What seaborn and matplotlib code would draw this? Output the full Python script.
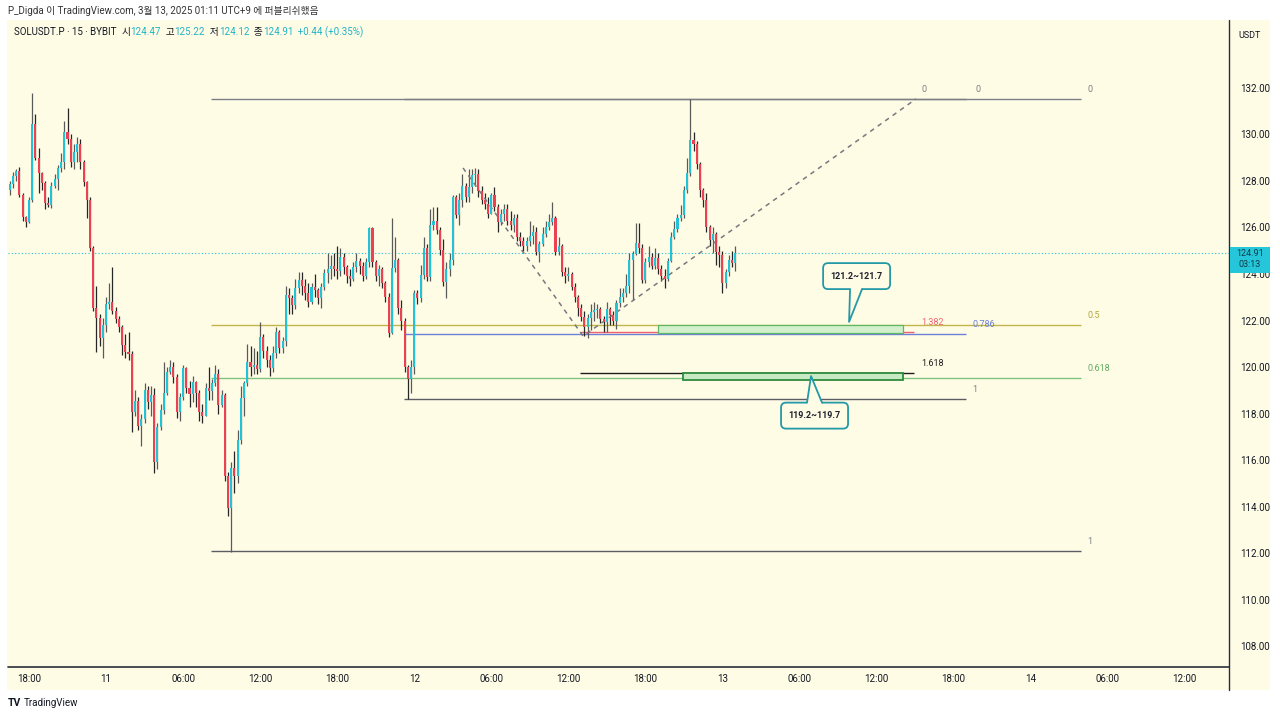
import numpy as np
import pandas as pd
import matplotlib
matplotlib.use('Agg')
import matplotlib.pyplot as plt
import seaborn as sns
from matplotlib.patches import Rectangle, FancyBboxPatch, Polygon

# SOLUSDT.P 15m candles, bar 0 = 10 Mar 16:30, last bar = 13 Mar 01:00
first_open = 127.6
closes = [
    127.85, 128.2, 128.45, 127.4, 126.45, 126.25, 127.2, 130.45, 129.0, 128.35,
    127.9, 127.05, 126.95, 127.8, 128.1, 128.55, 128.8, 130.1, 129.8, 128.8,
    129.25, 129.6, 128.8, 127.95, 127.2, 125.1, 122.55, 122.1, 121.25, 121.8,
    122.7, 122.8, 122.4, 122.05, 121.7, 120.95, 120.65, 120.55, 118.05, 118.55,
    117.45, 117.75, 119.0, 118.5, 118.8, 115.9, 117.4, 118.15, 118.9, 119.8,
    120.0, 119.55, 118.05, 118.7, 119.95, 119.1, 118.85, 119.35, 118.9, 118.05,
    117.9, 119.1, 118.95, 119.3, 119.7, 118.35, 118.8, 115.3, 113.95, 115.65,
    115.3, 116.85, 118.65, 119.3, 120.2, 120.0, 120.1, 119.9, 121.3, 120.7,
    120.3, 119.95, 120.6, 121.5, 120.8, 121.1, 123.1, 122.95, 122.65, 123.4,
    123.75, 123.5, 123.2, 122.8, 123.45, 123.3, 122.95, 123.45, 124.05, 124.2,
    124.35, 124.2, 124.15, 124.75, 124.3, 123.9, 123.8, 124.3, 124.55, 124.35,
    123.9, 124.5, 125.98, 124.5, 123.9, 124.2, 123.6, 123.0, 121.45, 124.25,
    124.6, 122.55, 122.0, 120.0, 119.5, 120.0, 123.2, 122.95, 123.95, 125.1,
    123.85, 126.1, 126.3, 125.9, 125.05, 123.65, 124.2, 124.6, 127.3, 126.55,
    127.2, 127.8, 127.3, 127.75, 128.25, 128.3, 127.55, 127.2, 127.0, 126.6,
    127.4, 126.9, 126.25, 126.6, 126.8, 126.3, 126.1, 126.4, 125.6, 125.4,
    125.2, 125.4, 125.65, 125.8, 124.95, 125.3, 125.7, 126.0, 126.25, 126.4,
    124.95, 125.2, 124.1, 123.9, 124.0, 123.45, 123.0, 122.55, 122.15, 121.7,
    122.1, 122.35, 122.45, 122.5, 122.05, 121.95, 122.5, 122.25, 122.0, 122.75,
    123.0, 123.2, 123.5, 124.6, 124.85, 125.35, 125.1, 123.75, 124.5, 124.75,
    124.35, 124.7, 124.2, 123.9, 123.8, 124.55, 125.6, 125.95, 126.4, 126.55,
    127.6, 128.35, 129.75, 129.6, 128.75, 127.6, 127.2, 126.0, 125.45, 125.7,
    124.95, 124.8, 123.6, 124.1, 124.6, 124.47, 124.91]
highs = [
    128.0, 128.4, 128.5, 128.6, 127.5, 126.5, 127.3, 131.78, 130.9, 129.4,
    128.4, 128.0, 127.3, 127.95, 128.3, 128.7, 129.2, 130.6, 131.15, 130.0,
    129.6, 129.9, 129.8, 128.9, 128.0, 127.3, 125.2, 123.5, 122.3, 122.1,
    123.0, 123.6, 124.3, 122.6, 122.2, 121.8, 121.4, 121.5, 120.7, 119.0,
    118.7, 118.0, 119.3, 119.2, 119.2, 119.1, 117.6, 118.4, 120.2, 120.0,
    120.3, 120.2, 119.7, 118.9, 120.1, 120.0, 119.4, 119.6, 119.4, 119.0,
    118.4, 119.3, 120.0, 119.5, 120.1, 119.9, 119.0, 118.9, 115.5, 115.9,
    116.4, 117.3, 119.2, 119.4, 121.0, 120.9, 120.8, 120.7, 121.95, 121.4,
    120.9, 120.5, 120.9, 121.7, 121.6, 121.3, 123.5, 123.4, 123.1, 123.8,
    124.1, 124.1, 123.8, 123.6, 123.6, 124.0, 123.4, 123.6, 124.2, 124.9,
    124.8, 124.9, 125.2, 125.1, 124.9, 124.4, 124.2, 124.5, 124.9, 124.7,
    124.5, 124.7, 126.0, 126.0, 124.6, 124.4, 124.3, 123.7, 123.2, 126.4,
    125.6, 124.7, 122.9, 122.1, 120.1, 120.3, 123.3, 123.3, 124.4, 125.6,
    125.3, 126.8, 126.9, 126.9, 126.0, 125.5, 124.5, 124.9, 127.4, 127.4,
    127.5, 128.3, 127.9, 128.5, 128.5, 128.55, 128.5, 127.8, 127.5, 127.3,
    127.5, 127.75, 127.0, 126.8, 127.0, 127.0, 126.7, 126.6, 126.6, 125.8,
    125.6, 125.6, 126.3, 126.1, 126.0, 125.4, 126.0, 126.3, 126.6, 127.1,
    126.5, 125.6, 125.3, 124.3, 124.3, 124.1, 123.6, 123.1, 122.7, 122.4,
    122.3, 122.7, 122.8, 122.7, 122.6, 122.2, 122.8, 122.6, 122.4, 122.9,
    123.4, 123.4, 124.0, 124.9, 125.0, 126.2, 126.2, 125.3, 124.7, 125.2,
    124.9, 125.1, 124.9, 124.4, 124.2, 124.7, 125.8, 126.3, 126.6, 126.95,
    127.8, 129.0, 131.53, 130.1, 129.7, 128.8, 127.7, 127.5, 126.1, 126.0,
    125.8, 125.2, 125.0, 124.2, 124.8, 125.0, 125.22]
lows = [
    127.4, 127.7, 128.0, 127.3, 126.3, 126.0, 126.2, 127.1, 128.9, 127.5,
    127.6, 126.8, 126.9, 126.85, 127.7, 127.6, 128.4, 128.5, 129.6, 128.6,
    128.5, 128.8, 128.5, 127.8, 126.4, 125.0, 122.4, 120.65, 120.9, 120.4,
    121.5, 122.5, 122.3, 121.9, 121.5, 120.5, 120.4, 120.3, 117.2, 117.9,
    117.3, 116.6, 117.6, 118.2, 117.9, 115.45, 115.6, 117.3, 118.0, 118.8,
    119.7, 119.3, 117.8, 117.7, 118.6, 118.9, 118.3, 118.5, 118.3, 117.7,
    117.6, 117.9, 118.6, 118.6, 119.2, 118.0, 118.3, 115.1, 113.6, 112.05,
    114.6, 115.0, 116.7, 117.9, 119.2, 119.6, 119.7, 119.7, 119.8, 120.4,
    120.0, 119.6, 119.8, 120.4, 120.6, 120.6, 120.9, 122.3, 122.3, 122.5,
    123.2, 123.1, 122.9, 122.6, 122.7, 123.0, 122.7, 122.55, 123.3, 123.6,
    123.8, 123.9, 123.8, 123.9, 124.0, 123.6, 123.5, 123.7, 124.1, 124.0,
    123.7, 123.8, 124.3, 124.3, 123.7, 123.5, 123.4, 122.8, 121.3, 121.4,
    124.1, 122.3, 121.6, 119.8, 118.62, 118.9, 119.7, 122.7, 122.8, 123.8,
    123.7, 123.7, 125.9, 125.7, 124.8, 123.5, 122.95, 123.9, 124.4, 126.4,
    126.1, 126.9, 127.1, 127.1, 127.5, 127.8, 127.3, 127.0, 126.8, 126.4,
    126.6, 126.7, 125.8, 126.1, 126.3, 126.1, 125.9, 125.8, 125.4, 125.2,
    125.0, 125.0, 125.2, 125.3, 124.8, 124.5, 125.2, 125.6, 125.9, 126.1,
    124.8, 124.8, 123.9, 123.6, 123.7, 123.3, 122.8, 122.2, 122.0, 121.35,
    121.25, 121.6, 122.0, 122.1, 121.9, 121.5, 121.5, 121.8, 121.8, 121.65,
    122.6, 122.8, 123.0, 123.2, 122.9, 124.8, 124.9, 123.6, 123.6, 124.3,
    124.2, 124.2, 124.0, 123.7, 123.4, 123.7, 124.5, 125.5, 125.8, 126.3,
    126.4, 127.5, 128.2, 129.3, 128.5, 127.3, 126.9, 125.8, 125.2, 124.9,
    124.4, 124.3, 123.2, 123.4, 123.9, 124.3, 124.12]

# time axis labels (every 24 bars = 6 hours, first label 10 Mar 18:00 at bar 6)
time_labels = ['18:00', '11', '06:00', '12:00', '18:00', '12', '06:00', '12:00',
               '18:00', '13', '06:00', '12:00', '18:00', '14', '06:00', '12:00']
price_ticks = [108, 110, 112, 114, 116, 118, 120, 122, 124, 126, 128, 130, 132]

# fib retracement 112.09 -> 131.53 (bars 62.7 .. 333.7)
fib_main_levels = ['0', '0.5', '0.618', '1']
fib_main_prices = [131.53, 121.81, 119.52, 112.09]
# fib retracement 118.62 -> 131.53 (bars 122.8 .. 297.9)
fib_sub_levels = ['0', '0.786', '1']
fib_sub_prices = [131.53, 121.42, 118.62]
# trend based extension, pivots and levels
ext_bars = [141.2, 178.6, 282.3]
ext_prices = [128.56, 121.33, 131.53]
ext_levels = ['0', '1.382', '1.618']
ext_prices_lv = [131.53, 121.49, 119.74]
# target zones
zone_upper = [121.46, 121.81]
zone_lower = [119.44, 119.74]

PANEL = '#fffce6'
UP, DOWN = '#22c3d6', '#ec4153'
TEAL_TXT = '#1fb3c6'
DARK = '#131722'

df = pd.DataFrame({'close': closes, 'high': highs, 'low': lows})
df['open'] = [first_open] + closes[:-1]
df['bar'] = np.arange(len(df))
df['high'] = df[['high', 'open', 'close']].max(axis=1)
df['low'] = df[['low', 'open', 'close']].min(axis=1)
df['up'] = df['close'] >= df['open']

sns.set_style('white')
plt.rcParams['font.family'] = ['Roboto', 'Noto Sans CJK KR', 'DejaVu Sans']

fig = plt.figure(figsize=(12.8, 7.17), dpi=100)
W, H = 1280, 717

# background panel (pixel coords)
bg = fig.add_axes([0, 0, 1, 1], zorder=-1)
bg.set_xlim(0, W)
bg.set_ylim(0, H)
bg.axis('off')
bg.add_patch(Rectangle((7, H - 690), 1263, 670, fc=PANEL, ec='none'))

ax = fig.add_axes([8 / W, (H - 667) / H, (1229 - 8) / W, (667 - 21) / H], zorder=1)
ax.set_facecolor(PANEL)
ax.set_xlim(-0.54, 379.8)
ax.set_ylim(107.10, 134.88)
for s in ax.spines.values():
    s.set_visible(False)

# candles
ax.vlines(df['bar'], df['low'], df['high'],
          colors=np.where(df['up'], '#5a5a5a', '#262626'), lw=0.9, zorder=2)
body = np.maximum((df['close'] - df['open']).abs(), 0.04)
bottom = df[['open', 'close']].min(axis=1)
ax.bar(df['bar'], body, bottom=bottom, width=0.64,
       color=np.where(df['up'], UP, DOWN), linewidth=0, zorder=3)

# current price line
ax.axhline(closes[-1], color=UP, ls=(0, (1, 2)), lw=0.8, zorder=1)

# fib retracement lines
main_cols = ['#7d7f87', '#c2b64a', '#7cc47f', '#5b5d63']
main_txt = ['#7d7f87', '#b3a53c', '#5faa63', '#7d7f87']
for lv, p, c, tc in zip(fib_main_levels, fib_main_prices, main_cols, main_txt):
    ax.hlines(p, 62.7, 333.7, color=c, lw=1.0, zorder=1)
    ax.annotate(lv, (335.6, p), xytext=(0, 7), textcoords='offset points',
                fontsize=6.5, color=tc, va='center')
sub_cols = ['#7d7f87', '#6d80d8', '#5b5d63']
for lv, p, c in zip(fib_sub_levels, fib_sub_prices, sub_cols):
    ax.hlines(p, 122.8, 297.9, color=c, lw=1.0, zorder=1)
    ax.annotate(lv, (299.8 if lv != '0' else 300.7, p), xytext=(0, 7),
                textcoords='offset points', fontsize=6.5,
                color=c if lv != '1' else '#7d7f87', va='center')

# trend based extension
sns.lineplot(x=ext_bars, y=ext_prices, ax=ax, color='#77787e', lw=1.1,
             linestyle=(0, (3, 3)), sort=False, estimator=None, zorder=2)
ext_cols = ['#7d7f87', '#f0626f', '#1e1e1e']
for lv, p, c in zip(ext_levels, ext_prices_lv, ext_cols):
    if lv != '0':
        ax.hlines(p, 177.7, 281.6, color=c, lw=1.0, zorder=1)
    ax.annotate(lv, (283.9, p), xytext=(0, 7), textcoords='offset points',
                fontsize=6.5, color=c, va='center')

# target zones
ax.add_patch(Rectangle((201.9, zone_upper[0]), 278.3 - 201.9, zone_upper[1] - zone_upper[0],
                       fc='#d3efcc', ec='#5cb862', lw=0.9, zorder=2))
ax.add_patch(Rectangle((209.7, zone_lower[0]), 278.3 - 209.7, zone_lower[1] - zone_lower[0],
                       fc='#c8eac2', ec='#2e8b3e', lw=1.3, zorder=2))

# axes ticks
ax.yaxis.tick_right()
ax.set_yticks(price_ticks)
ax.set_yticklabels([f'{v:.2f}' for v in price_ticks])
ax.set_xticks([6 + 24 * k for k in range(len(time_labels))])
ax.set_xticklabels(time_labels)
ax.tick_params(axis='y', length=0, pad=8, labelsize=7, labelcolor=DARK)
ax.tick_params(axis='x', length=0, pad=5, labelsize=7, labelcolor=DARK)
ax.grid(False)

# overlay for annotations in pixel coords
ov = fig.add_axes([0, 0, 1, 1], zorder=2)
ov.set_xlim(0, W)
ov.set_ylim(0, H)
ov.axis('off')

ov.plot([1229, 1229], [H - 690, H - 20], color='#2a2e39', lw=1.0)
ov.plot([8, 1229], [H - 667, H - 667], color='#2a2e39', lw=1.2)


def to_px(x, y):
    return ax.transData.transform((x, y))


def callout(label, tip, center, base_dx, w=67, h=26):
    tx, ty = to_px(*tip)
    cx, cy = to_px(*center)
    r = 5
    ov.add_patch(FancyBboxPatch((cx - w / 2 + r, cy - h / 2 + r), w - 2 * r, h - 2 * r,
                                boxstyle=f'round,pad={r}', fc=PANEL, ec='#2499a6',
                                lw=1.3, zorder=3))
    edge = cy - h / 2 if ty < cy else cy + h / 2
    inward = 1.5 if ty < cy else -1.5
    b0, b1 = tx + base_dx[0], tx + base_dx[1]
    ov.add_patch(Polygon([(b0, edge + inward), (tx, ty), (b1, edge + inward)],
                         closed=True, fc=PANEL, ec='none', zorder=4))
    ov.plot([b0, tx, b1], [edge, ty, edge], color='#2499a6', lw=1.3, zorder=5)
    ov.text(cx, cy, label, ha='center', va='center', fontsize=6.5,
            fontweight='bold', color='#1e222d', zorder=6)


callout('121.2~121.7', (261.45, 121.94), (263.8, 123.91), (1, 13))
callout('119.2~119.7', (249.6, 119.61), (250.7, 117.91), (-4, 11))

# last price label on the price axis
_, py = to_px(0, closes[-1])
ov.add_patch(Rectangle((1230, py - 20), 40, 26, fc='#26c6da', ec='none', zorder=3))
ov.text(1250, py - 1, f'{closes[-1]:.2f}', ha='center', va='center', fontsize=6.5,
        color='#0d3d45', zorder=4)
ov.text(1250, py - 12, '03:13', ha='center', va='center', fontsize=6.5,
        color='#0d3d45', zorder=4)
ov.text(1250, H - 35, 'USDT', ha='center', va='center', fontsize=6.5, color=DARK)

# header texts
ov.text(8, H - 11, 'P_Digda 이 TradingView.com, 3월 13, 2025 01:11 UTC+9 에 퍼블리쉬했음',
        fontsize=7, color='#333333', va='center')
last = df.iloc[-1]
chg = last['close'] - closes[-2]
pieces = [('SOLUSDT.P · 15 · BYBIT  ', DARK), ('시', DARK), (f"{last['open']:.2f}", TEAL_TXT),
          ('  고', DARK), (f"{last['high']:.2f}", TEAL_TXT), ('  저', DARK),
          (f"{last['low']:.2f}", TEAL_TXT), ('  종', DARK), (f"{last['close']:.2f}", TEAL_TXT),
          (f"  {chg:+.2f} ({chg / closes[-2] * 100:+.2f}%)", TEAL_TXT)]
fig.canvas.draw()
renderer = fig.canvas.get_renderer()
x = 14
for txt, col in pieces:
    t = ov.text(x, H - 32, txt, fontsize=7, color=col, va='center')
    x = t.get_window_extent(renderer).x1

# footer logo
ov.text(8, H - 703, 'TV', fontsize=7.5, fontweight='bold', color=DARK, va='center')
ov.text(24, H - 703, 'TradingView', fontsize=7, color=DARK, va='center')

plt.savefig('out.png', dpi=100, facecolor='white')
